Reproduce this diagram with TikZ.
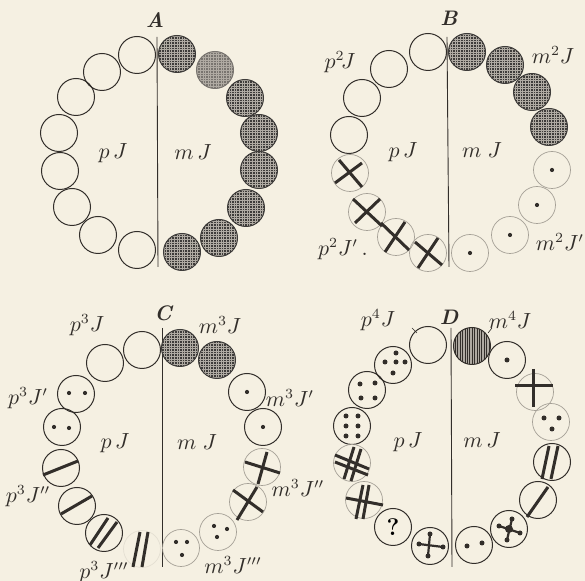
\documentclass[tikz,border=0pt]{standalone}
\usetikzlibrary{calc}
\definecolor{paper}{RGB}{245,240,226}
\definecolor{ink}{RGB}{50,46,42}
\definecolor{faintink}{RGB}{165,160,150}
\definecolor{ghostink}{RGB}{228,223,210}
\definecolor{meshdark}{RGB}{62,60,58}
\definecolor{meshsoft}{RGB}{120,116,111}
\definecolor{meshlight}{RGB}{175,170,162}
\tikzset{
  ring/.style={circle, draw=ink, line width=0.5pt, minimum size=18.5pt, inner sep=0pt},
  faintring/.style={circle, draw=faintink, line width=0.35pt, minimum size=18.5pt, inner sep=0pt},
  ghostring/.style={circle, draw=ghostink, line width=0.35pt, minimum size=18.5pt, inner sep=0pt},
  boldline/.style={draw=ink, line width=1.5pt},
  axis/.style={draw=ink, line width=0.45pt},
  lbl/.style={text=ink, font=\fontsize{10.5}{12}\selectfont, inner sep=0pt},
  head/.style={text=ink, font=\fontsize{10.5}{12}\selectfont\bfseries\itshape, inner sep=0pt},
}
\newcommand\meshfill[2][meshdark]{%
  \begin{scope}
    \clip (#2) circle (9.25pt);
    \fill[#1] ($(#2)+(-20,-20)$) rectangle ($(#2)+(20,20)$);
    \draw[meshlight, line width=0.18pt, step=1.3pt] ($(#2)+(-22,-22)$) grid ($(#2)+(22,22)$);
  \end{scope}
  \draw[#1, line width=0.5pt] (#2) circle (9.25pt);
}
\newcommand\vhatch[1]{%
  \begin{scope}
    \clip (#1) circle (9.25pt);
    \fill[meshlight] ($(#1)+(-20,-20)$) rectangle ($(#1)+(20,20)$);
    \foreach \k in {-19,-16.6,...,20} {\draw[ink, line width=0.35pt] ($(#1)+(\k,-20)$) -- ($(#1)+(\k,20)$);}
  \end{scope}
  \draw[ink, line width=0.5pt] (#1) circle (9.25pt);
}
\newcommand\dt[1]{\fill[ink] (#1) circle (1.05pt);}
\newcommand\bdt[1]{\fill[ink] (#1) circle (1.25pt);}
\begin{document}
\begin{tikzpicture}[x=0.5pt, y=-0.5pt]
\fill[paper] (0,0) rectangle (585,581);
\useasboundingbox (0,0) rectangle (585,581);

%%%%%%%%%%%%%%%% Panel A
\coordinate (Atop) at (157,37); \coordinate (Abot) at (158,267);
\draw[axis] (Atop) -- (Abot);
\node[head] (tA) at (155,20) {A};
\node[lbl] (ApJ) at (113,153) {$p\,J$};
\node[lbl] (AmJ) at (193,152) {$m\,J$};
\node[ring] (A1) at (137,55) {};
\node[ring] (A2) at (102,72) {};
\node[ring] (A3) at (76,97) {};
\node[ring] (A4) at (59,133) {};
\node[ring] (A5) at (60,171) {};
\node[ring] (A6) at (72,207) {};
\node[ring] (A7) at (98,235) {};
\node[ring] (A8) at (137,250) {};
\coordinate (Am1) at (177,54); \meshfill{Am1}
\coordinate (Am2) at (215,70); \meshfill[meshsoft]{Am2}
\coordinate (Am3) at (245,98); \meshfill{Am3}
\coordinate (Am4) at (259,133); \meshfill{Am4}
\coordinate (Am5) at (259,170); \meshfill{Am5}
\coordinate (Am6) at (246,208); \meshfill{Am6}
\coordinate (Am7) at (219,238); \meshfill{Am7}
\coordinate (Am8) at (182,252); \meshfill{Am8}

%%%%%%%%%%%%%%%% Panel B
\coordinate (Btop) at (447,37); \coordinate (Bbot) at (449,267);
\draw[axis] (Btop) -- (Bbot);
\node[head] (tB) at (449,18) {B};
\node[lbl] (BpJ) at (403,152) {$p\,J$};
\node[lbl] (BmJ) at (482,150) {$m\;J$};
\node[lbl] (Bp2J) at (340,62) {$p^2\!J$};
\node[lbl] (Bm2J) at (553,55) {$m^2J$};
\node[lbl] (Bp2Jp) at (343,249) {$p^2J'\,.$};
\node[lbl] (Bm2Jp) at (560,242) {$m^2J'$};
\node[ring] (B1) at (428,52) {};
\node[ring] (B2) at (389,69) {};
\node[ring] (B3) at (362,98) {};
\node[ring] (B4) at (349,135) {};
\node[faintring] (B5) at (350,173) {};
\node[faintring] (B6) at (367,212) {};
\node[faintring] (B7) at (396,237) {};
\node[faintring] (B8) at (428,253) {};
\begin{scope}[shift={(B5)}]
  \draw[boldline] (-11,-13) -- (12,14); \draw[boldline] (12,-10) -- (-15,10);
\end{scope}
\begin{scope}[shift={(B6)}]
  \draw[boldline] (-14,-13) -- (15,14); \draw[boldline] (13,-13) -- (-12,11);
\end{scope}
\begin{scope}[shift={(B7)}]
  \draw[boldline] (-15,-14) -- (13,13); \draw[boldline] (9,-15) -- (-11,15);
\end{scope}
\begin{scope}[shift={(B8)}]
  \draw[boldline] (-13,-11) -- (14,12); \draw[boldline] (10,-15) -- (-10,15);
\end{scope}
\coordinate (Bm1) at (467,52); \meshfill{Bm1}
\coordinate (Bm2) at (505,65); \meshfill{Bm2}
\coordinate (Bm3) at (532,92); \meshfill{Bm3}
\coordinate (Bm4) at (549,127); \meshfill{Bm4}
\node[faintring] (Bm5) at (552,170) {}; \dt{Bm5}
\node[faintring] (Bm6) at (537,205) {}; \dt{Bm6}
\node[faintring] (Bm7) at (510,235) {}; \dt{Bm7}
\node[faintring] (Bm8) at (470,253) {}; \dt{Bm8}

%%%%%%%%%%%%%%%% Panel C
\coordinate (Ctop) at (162,328); \coordinate (Cbot) at (162,567);
\draw[axis] (Ctop) -- (Cbot);
\node[head] (tC) at (163,313) {C};
\node[lbl] (CpJ) at (115,443) {$p\,J$};
\node[lbl] (CmJ) at (197,442) {$m\;J$};
\node[lbl] (Cp3J) at (87,325) {$p^3J$};
\node[lbl] (Cm3J) at (220,325) {$m^3J$};
\node[lbl] (Cp3Jp) at (28,398) {$p^3J'$};
\node[lbl] (Cp3Jpp) at (28,496) {$p^3J''$};
\node[lbl] (Cp3Jppp) at (104,572) {$p^3J'''$};
\node[lbl] (Cm3Jp) at (290,398) {$m^3J'$};
\node[lbl] (Cm3Jpp) at (298,488) {$m^3J''$};
\node[lbl] (Cm3Jppp) at (233,565) {$m^3J'''$};
\node[ring] (C1) at (142,350) {};
\node[ring] (C2) at (105,363) {};
\node[ring] (C3) at (76,394) {};
\node[ring] (C4) at (62,427) {};
\node[ring] (C5) at (61,468) {};
\node[ring] (C6) at (77,506) {};
\node[ring] (C7) at (104,533) {};
\node[ghostring] (C8) at (142,549) {};
\begin{scope}[shift={(C3)}] \dt{-7,-1} \dt{9,-1} \end{scope}
\begin{scope}[shift={(C4)}] \dt{-8,0} \dt{7,1} \end{scope}
\begin{scope}[shift={(C5)}] \draw[boldline] (-18,7) -- (17,-7); \end{scope}
\begin{scope}[shift={(C6)}] \draw[boldline] (-16,8) -- (15,-10); \end{scope}
\begin{scope}[shift={(C7)}]
  \draw[boldline] (-14,12) -- (4,-15); \draw[boldline] (-6,15) -- (13,-11);
\end{scope}
\begin{scope}[shift={(C8)}]
  \draw[boldline] (-9,18) -- (-2,-17); \draw[boldline] (0,18) -- (6,-17);
\end{scope}
\coordinate (Cm1) at (180,348); \meshfill{Cm1}
\coordinate (Cm2) at (217,360); \meshfill{Cm2}
\node[ring] (Cm3) at (247,392) {}; \dt{Cm3}
\node[ring] (Cm4) at (263,427) {}; \dt{Cm4}
\node[faintring] (Cm5) at (262,467) {};
\node[faintring] (Cm6) at (248,502) {};
\node[faintring] (Cm7) at (218,532) {};
\node[faintring] (Cm8) at (181,548) {};
\begin{scope}[shift={(Cm5)}]
  \draw[boldline] (-17,-5) -- (18,6); \draw[boldline] (5,-15) -- (-4,17);
\end{scope}
\begin{scope}[shift={(Cm6)}]
  \draw[boldline] (-15,-12) -- (15,10); \draw[boldline] (9,-15) -- (-11,18);
\end{scope}
\begin{scope}[shift={(Cm7)}] \dt{-4,-6} \dt{9,-3} \dt{-1,5} \end{scope}
\begin{scope}[shift={(Cm8)}] \dt{-5,-6} \dt{6,-6} \dt{1,7} \end{scope}

%%%%%%%%%%%%%%%% Panel D
\coordinate (Dtop) at (451,328); \coordinate (Dbot) at (452,567);
\draw[axis] (Dtop) -- (Dbot);
\node[head] (tD) at (449,317) {D};
\node[lbl] (DpJ) at (408,442) {$p\,J$};
\node[lbl] (DmJ) at (482,440) {$m\,J$};
\node[lbl] (Dp4J) at (378,320) {$p^4J$};
\node[lbl] (Dm4J) at (510,320) {$m^4J$};
\coordinate (Dtk1a) at (412,328); \coordinate (Dtk1b) at (417,333);
\draw[ink, line width=0.3pt] (Dtk1a) -- (Dtk1b);
\coordinate (Dtk2a) at (492,328); \coordinate (Dtk2b) at (488,333);
\draw[ink, line width=0.3pt] (Dtk2a) -- (Dtk2b);
\node[ring] (D1) at (428,345) {};
\node[ring] (D2) at (393,365) {};
\node[ring] (D3) at (367,390) {};
\node[ring] (D4) at (352,426) {};
\node[faintring] (D5) at (352,463) {};
\node[faintring] (D6) at (364,500) {};
\node[ring] (D7) at (393,527) {\fontsize{12}{12}\selectfont\bfseries ?};
\node[ring] (D8) at (430,546) {};
\begin{scope}[shift={(D2)}] \bdt{3,-12} \bdt{-8,-3} \bdt{3,-3} \bdt{12,-3} \bdt{0,8} \end{scope}
\begin{scope}[shift={(D3)}] \bdt{-7,-6} \bdt{8,-7} \bdt{-6,8} \bdt{8,8} \end{scope}
\begin{scope}[shift={(D4)}] \bdt{-6,-10} \bdt{6,-10} \bdt{-6,0} \bdt{6,0} \bdt{-6,10} \bdt{6,10} \end{scope}
\begin{scope}[shift={(D5)}]
  \draw[boldline] (-8,16) -- (2,-16); \draw[boldline] (-1,18) -- (9,-14);
  \draw[boldline] (-17,-8) -- (17,6); \draw[boldline] (-17,-1) -- (16,12);
\end{scope}
\begin{scope}[shift={(D6)}]
  \draw[boldline] (-8,19) -- (-1,-15); \draw[boldline] (-1,19) -- (5,-15);
  \draw[boldline] (-18,-2) -- (19,5);
\end{scope}
\begin{scope}[shift={(D8)}]
  \draw[boldline, line width=1.1pt] (-11,-2) -- (13,1); \draw[boldline, line width=1.1pt] (0,-12) -- (-2,10);
  \bdt{-11,-2} \bdt{0,-12} \bdt{13,1} \bdt{-2,10}
\end{scope}
\coordinate (Dm1) at (472,346); \vhatch{Dm1}
\node[ring] (Dm2) at (507,360) {}; \bdt{Dm2}
\node[faintring] (Dm3) at (535,392) {};
\node[faintring] (Dm4) at (551,422) {};
\node[ring] (Dm5) at (552,462) {};
\node[ring] (Dm6) at (538,500) {};
\node[ring] (Dm7) at (509,529) {};
\node[ring] (Dm8) at (474,545) {};
\begin{scope}[shift={(Dm3)}]
  \draw[boldline] (-20,-6) -- (18,-6); \draw[boldline] (-2,-23) -- (-2,15);
\end{scope}
\begin{scope}[shift={(Dm4)}] \bdt{-7,-4} \bdt{8,-4} \bdt{1,7} \end{scope}
\begin{scope}[shift={(Dm5)}]
  \draw[boldline] (-10,17) -- (-3,-16); \draw[boldline] (-1,17) -- (6,-16);
\end{scope}
\begin{scope}[shift={(Dm6)}] \draw[boldline] (-11,17) -- (10,-13); \end{scope}
\begin{scope}[shift={(Dm7)}]
  \draw[boldline, line width=1.1pt] (-10,-3) -- (11,4); \draw[boldline, line width=1.1pt] (3,-10) -- (-2,11);
  \bdt{-10,-3} \bdt{3,-10} \bdt{11,4} \bdt{-2,11}
  \fill[ink] (0,0) circle (2pt);
\end{scope}
\begin{scope}[shift={(Dm8)}] \bdt{-7,1} \bdt{8,-2} \end{scope}
\end{tikzpicture}
\end{document}
